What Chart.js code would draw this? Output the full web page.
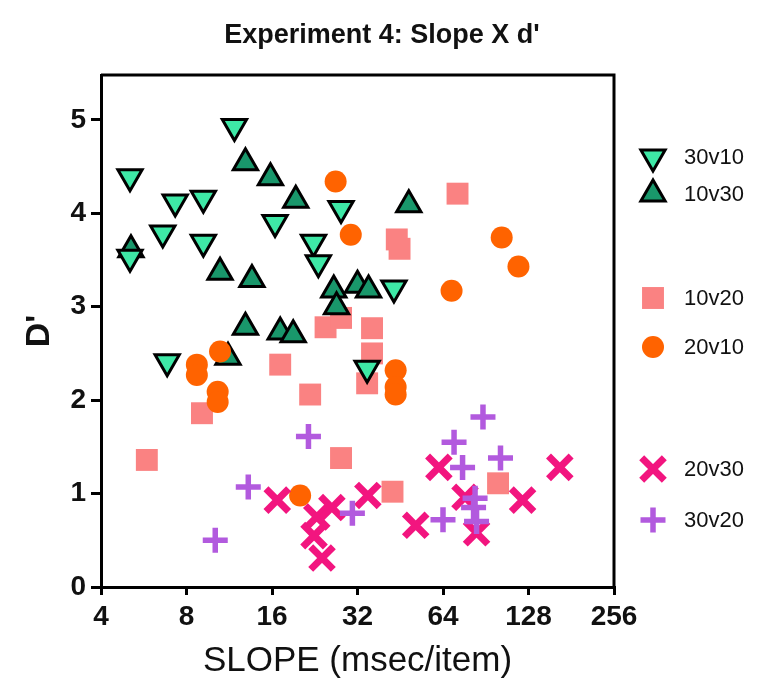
<!DOCTYPE html>
<html>
<head>
<meta charset="utf-8">
<script src="https://cdn.jsdelivr.net/npm/chart.js@4/dist/chart.umd.min.js"></script>
<style>
  html, body { margin: 0; padding: 0; background: #fff; }
  #wrap { width: 768px; height: 691px; }
</style>
</head>
<body>
<div id="wrap"><canvas id="slopeChart" width="768" height="691"></canvas></div>
<script>
// --------------------
// Data (slope in msec/item, d')
// --------------------
const seriesNames = ['30v10', '10v30', '10v20', '20v10', '20v30', '30v20'];

const x30v10 = [11.8, 5.06, 7.3, 9.17, 6.6, 9.17, 5.06, 16.4, 22.4, 23.3, 28, 43, 34.6, 6.84];
const y30v10 = [4.93, 4.39, 4.12, 4.16, 3.79, 3.69, 3.53, 3.9, 3.69, 3.47, 4.05, 3.2, 2.34, 2.41];

const x10v30 = [12.9, 15.8, 19.4, 5.1, 10.5, 13.6, 26.4, 27, 32, 35, 48.5, 12.9, 17.1, 19, 11.2];
const y10v30 = [4.54, 4.38, 4.14, 3.61, 3.37, 3.29, 3.18, 3.0, 3.23, 3.18, 4.09, 2.78, 2.73, 2.7, 2.46];

const x10v20 = [72, 44, 45, 24.7, 28, 36, 17.1, 36, 34.6, 21.8, 9.07, 5.8, 28, 42.5, 100];
const y10v20 = [4.21, 3.72, 3.62, 2.78, 2.88, 2.77, 2.38, 2.5, 2.18, 2.06, 1.86, 1.36, 1.38, 1.02, 1.11];

const x20v10 = [26.8, 30.3, 43.6, 43.6, 43.6, 68.6, 103, 118, 20.1, 10.5, 8.7, 8.7, 10.3, 10.3];
const y20v10 = [4.34, 3.77, 2.32, 2.14, 2.06, 3.17, 3.74, 3.43, 0.98, 2.52, 2.38, 2.27, 2.09, 1.98];

const x20v30 = [16.7, 23, 22.5, 24, 26, 34.8, 51.3, 61.9, 76.5, 84, 122, 165];
const y20v30 = [0.93, 0.75, 0.55, 0.31, 0.85, 0.98, 0.66, 1.28, 0.96, 0.58, 0.93, 1.28];

const x30v20 = [21.5, 13.2, 10.1, 30.7, 88.5, 70, 75, 102, 83, 82, 84, 64];
const y30v20 = [1.61, 1.07, 0.5, 0.79, 1.82, 1.55, 1.28, 1.38, 0.95, 0.85, 0.7, 0.72];

const xTicks = [4, 8, 16, 32, 64, 128, 256];
const yTicks = [0, 1, 2, 3, 4, 5];

// --------------------
// Styles
// --------------------
const FONT = '"Liberation Sans", Arial, sans-serif';

const styles = [
    { style: 'triangle', rotation: 180, radius: 14, fill: '#3ee8a6', line: '#000', width: 3, order: 3 },
    { style: 'triangle', rotation: 0, radius: 14, fill: '#19976b', line: '#000', width: 3, order: 4 },
    { style: 'rect', rotation: 0, radius: 15.5, fill: '#fa8282', line: '#fa8282', width: 0, order: 5 },
    { style: 'circle', rotation: 0, radius: 11, fill: '#ff6300', line: '#ff6300', width: 0, order: 2 },
    { style: 'crossRot', rotation: 0, radius: 16, fill: '#f2157f', line: '#f2157f', width: 7, order: 1 },
    { style: 'cross', rotation: 0, radius: 12.5, fill: '#b25ade', line: '#b25ade', width: 5.5, order: 0 }
];

const xs = [x30v10, x10v30, x10v20, x20v10, x20v30, x30v20];
const ys = [y30v10, y10v30, y10v20, y20v10, y20v30, y30v20];

function toPoints(xArr, yArr) {
    return xArr.map((x, i) => ({ x: x, y: yArr[i] }));
}

const datasets = seriesNames.map((name, i) => ({
    label: name,
    data: toPoints(xs[i], ys[i]),
    pointStyle: styles[i].style,
    pointRotation: styles[i].rotation,
    pointRadius: styles[i].radius,
    pointHoverRadius: styles[i].radius,
    backgroundColor: styles[i].fill,
    borderColor: styles[i].line,
    pointBorderWidth: styles[i].width,
    order: styles[i].order
}));

// legend rows (y positions in px)
const legendY = [157, 194, 298, 347, 469, 520];

// --------------------
// Plugin: box, title, legend
// --------------------
const decorPlugin = {
    id: 'decor',
    beforeDatasetsDraw(chart) {
        const { ctx, chartArea } = chart;
        ctx.save();
        ctx.strokeStyle = '#000';
        ctx.lineWidth = 3;
        ctx.beginPath();
        ctx.moveTo(chartArea.left, chartArea.top);
        ctx.lineTo(chartArea.right, chartArea.top);
        ctx.lineTo(chartArea.right, chartArea.bottom);
        ctx.stroke();
        ctx.restore();
    },
    afterDraw(chart) {
        const ctx = chart.ctx;
        ctx.save();
        // title
        ctx.fillStyle = '#111';
        ctx.font = 'bold 27px ' + FONT;
        ctx.textAlign = 'center';
        ctx.textBaseline = 'middle';
        ctx.fillText("Experiment 4: Slope X d'", 382, 36);

        // legend
        seriesNames.forEach((name, i) => {
            const s = styles[i];
            ctx.fillStyle = s.fill;
            ctx.strokeStyle = s.line;
            ctx.lineWidth = s.width;
            Chart.helpers.drawPoint(ctx, {
                pointStyle: s.style,
                rotation: s.rotation,
                radius: s.radius,
                borderWidth: s.width
            }, 653, legendY[i]);
            ctx.fillStyle = '#111';
            ctx.font = '22px ' + FONT;
            ctx.textAlign = 'left';
            ctx.fillText(name, 684, legendY[i] + 1);
        });
        ctx.restore();
    }
};

// --------------------
// Chart
// --------------------
const ctx = document.getElementById('slopeChart').getContext('2d');

new Chart(ctx, {
    type: 'scatter',
    data: { datasets: datasets },
    options: {
        responsive: false,
        animation: false,
        layout: { padding: { top: 75, right: 154, left: 0, bottom: 0 } },
        plugins: {
            legend: { display: false },
            tooltip: { enabled: false },
            title: { display: false }
        },
        scales: {
            x: {
                type: 'logarithmic',
                min: 4,
                max: 256,
                afterBuildTicks: scale => {
                    scale.ticks = xTicks.map(v => ({ value: v }));
                },
                afterFit: scale => { scale.height = 104; },
                ticks: {
                    color: '#111',
                    padding: 5,
                    font: { family: FONT, size: 28, weight: 'bold' },
                    callback: v => String(v),
                    maxRotation: 0,
                    autoSkip: false
                },
                grid: {
                    drawOnChartArea: false,
                    drawTicks: true,
                    tickLength: 8,
                    color: '#000',
                    lineWidth: 3
                },
                border: { display: true, color: '#000', width: 3 },
                title: {
                    display: true,
                    text: 'SLOPE (msec/item)',
                    color: '#111',
                    font: { family: FONT, size: 35 },
                    padding: { top: 0, bottom: 9 }
                }
            },
            y: {
                min: 0,
                max: 5.48,
                afterBuildTicks: scale => {
                    scale.ticks = yTicks.map(v => ({ value: v }));
                },
                afterFit: scale => { scale.width = 101; },
                ticks: {
                    color: '#111',
                    padding: 5,
                    font: { family: FONT, size: 28, weight: 'bold' },
                    callback: v => String(v)
                },
                grid: {
                    drawOnChartArea: false,
                    drawTicks: true,
                    tickLength: 10,
                    color: '#000',
                    lineWidth: 3
                },
                border: { display: true, color: '#000', width: 3 },
                title: {
                    display: true,
                    text: "D'",
                    color: '#111',
                    font: { family: FONT, size: 34, weight: 'bold' },
                    padding: { top: 19, bottom: 0 }
                }
            }
        }
    },
    plugins: [decorPlugin]
});
</script>
</body>
</html>
